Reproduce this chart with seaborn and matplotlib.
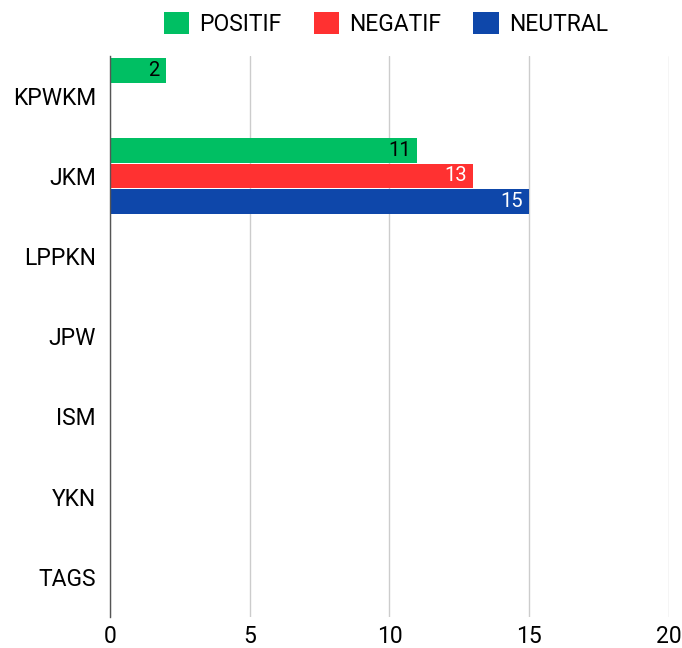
import matplotlib.pyplot as plt
import pandas as pd
import seaborn as sns

kategori = ['KPWKM', 'JKM', 'LPPKN', 'JPW', 'ISM', 'YKN', 'TAGS']
positif = [2, 11, 0, 0, 0, 0, 0]
negatif = [0, 13, 0, 0, 0, 0, 0]
neutral = [0, 15, 0, 0, 0, 0, 0]
sentimen = ['POSITIF', 'NEGATIF', 'NEUTRAL']
warna = ['#00bf63', '#ff3131', '#0e47aa']
warna_label = ['black', 'white', 'white']

df = pd.DataFrame({'Kategori': kategori, 'POSITIF': positif,
                   'NEGATIF': negatif, 'NEUTRAL': neutral})
df_long = df.melt(id_vars='Kategori', var_name='Sentimen', value_name='Jumlah')

sns.set_style('white')
plt.rcParams['font.family'] = ['Roboto', 'DejaVu Sans']
plt.rcParams['text.color'] = 'black'
plt.rcParams['xtick.color'] = 'black'
plt.rcParams['ytick.color'] = 'black'

fig = plt.figure(figsize=(6.82, 6.48), dpi=100)
ax = fig.add_axes([0.161, 0.048, 0.82, 0.866])
sns.barplot(data=df_long, y='Kategori', x='Jumlah', hue='Sentimen',
            hue_order=sentimen, palette=warna, saturation=1, orient='h',
            width=0.95, gap=0.04, edgecolor='none', ax=ax)

# label nilai di ujung bar (hanya yang > 0), rata kanan di dalam bar
for cont, warna_teks in zip(ax.containers, warna_label):
    labels = [f'{v:g}' if v > 0 else '' for v in cont.datavalues]
    teks = ax.bar_label(cont, labels=labels, padding=-4.5, color=warna_teks, fontsize=14.5)
    for t in teks:
        t.set_ha('right')

ax.set_xlim(0, 20)
ax.set_ylim(len(kategori) - 0.5, -0.5)
ax.set_xticks([0, 5, 10, 15, 20])
ax.grid(axis='x', color='#cccccc', linewidth=1)
ax.set_axisbelow(True)
for s in ['top', 'right', 'bottom']:
    ax.spines[s].set_visible(False)
ax.spines['left'].set_color('#555555')
ax.spines['left'].set_linewidth(1)
ax.tick_params(axis='both', length=0, labelsize=16.5)
ax.tick_params(axis='y', pad=10)
ax.tick_params(axis='x', pad=6)
ax.set_xlabel('')
ax.set_ylabel('')

ax.legend(loc='center', bbox_to_anchor=(0.566, 0.963), bbox_transform=fig.transFigure,
          ncol=3, frameon=False, fontsize=16.5, handlelength=1.1, handleheight=1.1,
          columnspacing=1.4, handletextpad=0.45)

fig.savefig('out.png', dpi=100)
